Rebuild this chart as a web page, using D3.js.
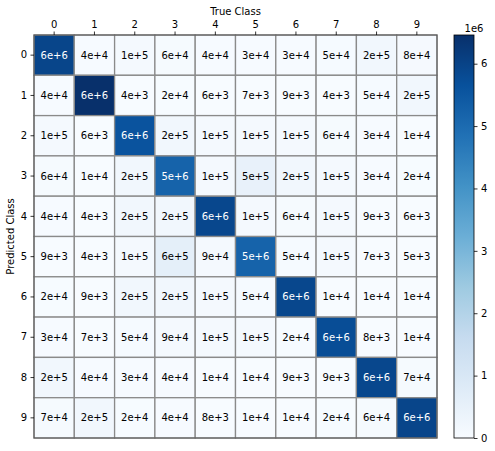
<!DOCTYPE html>
<html>
<head>
<meta charset="utf-8">
<script src="https://cdn.jsdelivr.net/npm/d3@7"></script>
<style>
  html, body { margin: 0; padding: 0; background: #fff; }
  svg { display: block; font-family: "DejaVu Sans", sans-serif; }
</style>
</head>
<body>
<svg id="chart" width="495" height="451"></svg>
<script>
// ---- data ----
const trueClasses = ["0","1","2","3","4","5","6","7","8","9"];
const predictedClasses = ["0","1","2","3","4","5","6","7","8","9"];
// rows = predicted class, columns = true class
const row0 = [5.95e6, 4e4, 1e5, 6e4, 4e4, 3e4, 3e4, 5e4, 2e5, 8e4];
const row1 = [4e4, 6.46e6, 4e3, 2e4, 6e3, 7e3, 9e3, 4e3, 5e4, 2e5];
const row2 = [1e5, 6e3, 5.6e6, 2e5, 1e5, 1e5, 1e5, 6e4, 3e4, 1e4];
const row3 = [6e4, 1e4, 2e5, 5.2e6, 1e5, 5e5, 2e5, 1e5, 3e4, 2e4];
const row4 = [4e4, 4e3, 2e5, 2e5, 5.9e6, 1e5, 6e4, 1e5, 9e3, 6e3];
const row5 = [9e3, 4e3, 1e5, 6e5, 9e4, 5.2e6, 5e4, 1e5, 7e3, 5e3];
const row6 = [2e4, 9e3, 2e5, 2e5, 1e5, 5e4, 5.9e6, 1e4, 1e4, 1e4];
const row7 = [3e4, 7e3, 5e4, 9e4, 1e5, 1e5, 2e4, 5.75e6, 8e3, 1e4];
const row8 = [2e5, 4e4, 3e4, 4e4, 1e4, 1e4, 9e3, 9e3, 5.9e6, 7e4];
const row9 = [7e4, 2e5, 2e4, 4e4, 8e3, 1e4, 1e4, 2e4, 6e4, 5.95e6];
const matrix = [row0, row1, row2, row3, row4, row5, row6, row7, row8, row9];
const colorbarTicks = [0, 1e6, 2e6, 3e6, 4e6, 5e6, 6e6];
const bluesStops = ["#f7fbff","#deebf7","#c6dbef","#9ecae1","#6baed6","#4292c6","#2171b5","#08519c","#08306b"];

// ---- layout ----
const svg = d3.select("#chart");
const L = 34, T = 35, W = 403, H = 403;
const cbX = 454, cbW = 20;

const vmax = d3.max(matrix.flat());
const x = d3.scaleBand().domain(trueClasses).range([L, L + W]);
const y = d3.scaleBand().domain(predictedClasses).range([T, T + H]);
const tnorm = d3.scaleLinear().domain([0, vmax]).range([0, 1]).clamp(true);
const stopScale = d3.scaleLinear()
  .domain(bluesStops.map((d, i) => i / (bluesStops.length - 1)))
  .range(bluesStops).interpolate(d3.interpolateRgb);
const color = v => stopScale(tnorm(v));
const fmt = d3.format(".0e");

const cells = [];
matrix.forEach((row, i) => row.forEach((v, j) => cells.push({r: predictedClasses[i], c: trueClasses[j], v})));

svg.append("g").selectAll("rect").data(cells).join("rect")
  .attr("x", d => x(d.c)).attr("y", d => y(d.r))
  .attr("width", x.bandwidth()).attr("height", y.bandwidth())
  .attr("fill", d => color(d.v))
  .attr("stroke", "#8a8a8a").attr("stroke-width", 1.3);

svg.append("g").selectAll("text").data(cells).join("text")
  .attr("x", d => x(d.c) + x.bandwidth() / 2)
  .attr("y", d => y(d.r) + y.bandwidth() / 2)
  .attr("text-anchor", "middle").attr("dominant-baseline", "central")
  .attr("font-size", 10)
  .attr("fill", d => d.v > vmax / 2 ? "#ffffff" : "#000000")
  .text(d => fmt(d.v));

// frame
svg.append("rect").attr("x", L).attr("y", T).attr("width", W).attr("height", H)
  .attr("fill", "none").attr("stroke", "#555").attr("stroke-width", 1);

// axes
const xAxis = svg.append("g").attr("transform", `translate(0,${T})`)
  .call(d3.axisTop(x).tickSize(3.5).tickPadding(3.5));
const yAxis = svg.append("g").attr("transform", `translate(${L},0)`)
  .call(d3.axisLeft(y).tickSize(3.5).tickPadding(3.5));
[xAxis, yAxis].forEach(a => {
  a.select(".domain").remove();
  a.selectAll("text").attr("font-size", 10).attr("font-family", "DejaVu Sans").attr("fill", "#000");
  a.selectAll("line").attr("stroke", "#000").attr("stroke-width", 0.8);
});

svg.append("text").attr("x", L + W / 2).attr("y", 15)
  .attr("text-anchor", "middle").attr("font-size", 10).text("True Class");
svg.append("text").attr("transform", `translate(14,${T + H / 2}) rotate(-90)`)
  .attr("text-anchor", "middle").attr("font-size", 10).text("Predicted Class");

// colorbar
const defs = svg.append("defs");
const grad = defs.append("linearGradient").attr("id", "cbgrad")
  .attr("x1", 0).attr("y1", 1).attr("x2", 0).attr("y2", 0);
bluesStops.forEach((c, i) => grad.append("stop")
  .attr("offset", i / (bluesStops.length - 1)).attr("stop-color", c));
svg.append("rect").attr("x", cbX).attr("y", T).attr("width", cbW).attr("height", H)
  .attr("fill", "url(#cbgrad)").attr("stroke", "#000").attr("stroke-width", 0.8);

const cbScale = d3.scaleLinear().domain([0, vmax]).range([T + H, T]);
const cbAxis = svg.append("g").attr("transform", `translate(${cbX + cbW},0)`)
  .call(d3.axisRight(cbScale).tickValues(colorbarTicks).tickFormat(d => d / 1e6).tickSize(3.5).tickPadding(3.5));
cbAxis.select(".domain").remove();
cbAxis.selectAll("text").attr("font-size", 10).attr("font-family", "DejaVu Sans").attr("fill", "#000");
cbAxis.selectAll("line").attr("stroke", "#000").attr("stroke-width", 0.8);
svg.append("text").attr("x", cbX + cbW).attr("y", T - 3)
  .attr("text-anchor", "middle").attr("font-size", 10).text("1e6");
</script>
</body>
</html>
